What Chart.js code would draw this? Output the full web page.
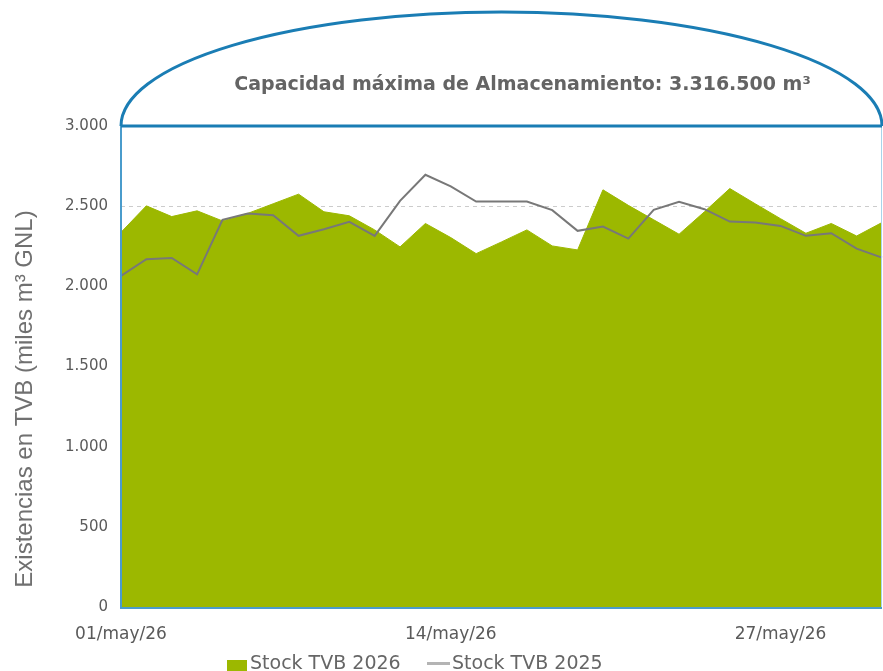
<!DOCTYPE html>
<html>
<head>
<meta charset="utf-8">
<script src="https://cdn.jsdelivr.net/npm/chart.js@4.4.1/dist/chart.umd.min.js"></script>
<style>
  body { margin: 0; background: #fff; }
  #wrap { position: relative; width: 883px; height: 671px; overflow: hidden; }
  #legend { position: absolute; left: 0; top: 0; width: 883px; height: 671px; pointer-events: none;
            font-family: "DejaVu Sans", sans-serif; font-size: 19px; color: #666666; }
  #legend span { position: absolute; white-space: nowrap; line-height: 22px; }
  .box { position: absolute; }
</style>
</head>
<body>
<div id="wrap">
  <canvas id="myChart" width="883" height="671"></canvas>
  <div id="legend">
    <div class="box" style="left:227px; top:660px; width:20px; height:12px; background:#9cb800;"></div>
    <span style="left:250px; top:651px;">Stock TVB 2026</span>
    <div class="box" style="left:427px; top:662px; width:23px; height:3px; background:#b4b4b4;"></div>
    <span style="left:452px; top:651px;">Stock TVB 2025</span>
  </div>
</div>
<script>
// days of May 2026
const labels = [];
for (let d = 1; d <= 31; d++) {
    labels.push(String(d).padStart(2, '0') + '/may/26');
}

// stock in thousand m3 GNL
const stock2026 = [2337, 2502, 2435, 2471, 2408, 2455, 2515, 2575, 2465, 2440,
                   2352, 2246, 2392, 2304, 2204, 2277, 2352, 2252, 2227, 2602,
                   2505, 2415, 2325, 2465, 2610, 2515, 2422, 2331, 2392, 2314, 2398];
const stock2025 = [2065, 2169, 2177, 2075, 2415, 2454, 2444, 2315, 2356, 2402,
                   2315, 2533, 2696, 2623, 2529, 2529, 2529, 2475, 2346, 2373,
                   2298, 2477, 2527, 2481, 2404, 2398, 2377, 2315, 2331, 2235, 2179];

const shownTicks = [0, 13, 26];
const capacityText = 'Capacidad máxima de Almacenamiento: 3.316.500 m³';
const yTitle = 'Existencias en TVB (miles m³ GNL)';

function fmt(v) {
    return String(v).replace(/\B(?=(\d{3})+(?!\d))/g, '.');
}

// dome on top of the tank + box borders + y title
const tankPlugin = {
    id: 'tank',
    afterDraw(chart) {
        const ctx = chart.ctx;
        const a = chart.chartArea;
        ctx.save();

        // thin borders of the plot box
        ctx.strokeStyle = '#4a9ccc';
        ctx.lineWidth = 2;
        ctx.beginPath();
        ctx.moveTo(a.left, a.top);
        ctx.lineTo(a.left, a.bottom + 1);
        ctx.lineTo(a.right, a.bottom + 1);
        ctx.stroke();
        ctx.strokeStyle = '#a8d4ea';
        ctx.lineWidth = 1;
        ctx.beginPath();
        ctx.moveTo(a.right - 0.5, a.top);
        ctx.lineTo(a.right - 0.5, a.bottom);
        ctx.stroke();

        // dome
        ctx.strokeStyle = '#1a7db4';
        ctx.lineWidth = 3;
        ctx.beginPath();
        ctx.ellipse((a.left + a.right) / 2, a.top, (a.right - a.left) / 2, 114, 0, Math.PI, 2 * Math.PI);
        ctx.stroke();
        ctx.beginPath();
        ctx.moveTo(a.left, a.top);
        ctx.lineTo(a.right, a.top);
        ctx.stroke();

        // capacity text
        ctx.fillStyle = '#646464';
        ctx.font = 'bold 19px "DejaVu Sans"';
        ctx.textAlign = 'center';
        ctx.textBaseline = 'middle';
        ctx.fillText(capacityText, (a.left + a.right) / 2 + 21, 85);

        // y axis title
        ctx.translate(25, 399);
        ctx.rotate(-Math.PI / 2);
        ctx.fillStyle = '#707070';
        ctx.font = '24px "Liberation Sans"';
        ctx.fillText(yTitle, 0, 0);
        ctx.restore();
    }
};

const ctx = document.getElementById('myChart');

const chart = new Chart(ctx, {
    type: 'line',
    data: {
        labels: labels,
        datasets: [
            {
                label: 'Stock TVB 2025',
                data: stock2025,
                borderColor: '#787878',
                borderWidth: 2,
                pointRadius: 0,
                fill: false,
                tension: 0,
                order: 0
            },
            {
                label: 'Stock TVB 2026',
                data: stock2026,
                borderColor: '#9cb800',
                backgroundColor: '#9cb800',
                borderWidth: 1,
                pointRadius: 0,
                fill: 'origin',
                tension: 0,
                order: 1
            }
        ]
    },
    options: {
        responsive: false,
        animation: false,
        layout: { padding: { top: 126, right: 1, left: 0, bottom: 0 } },
        plugins: {
            legend: { display: false },
            tooltip: { enabled: false }
        },
        scales: {
            x: {
                offset: false,
                grid: { display: false },
                border: { display: false },
                afterFit: (scale) => {
                    scale.height = 64;
                    scale.paddingLeft = 0;
                    scale.paddingRight = 0;
                },
                ticks: {
                    autoSkip: false,
                    maxRotation: 0,
                    padding: 9,
                    color: '#5a5a5a',
                    font: { family: 'DejaVu Sans', size: 17 },
                    callback: (value, index) => shownTicks.includes(index) ? labels[index] : ''
                }
            },
            y: {
                min: 0,
                max: 3000,
                afterFit: (scale) => { scale.width = 121; },
                grid: {
                    color: '#cccccc',
                    drawTicks: false
                },
                border: { display: false, dash: [4, 4] },
                ticks: {
                    stepSize: 500,
                    padding: 13,
                    color: '#5a5a5a',
                    font: { family: 'DejaVu Sans', size: 15 },
                    callback: (v) => fmt(v)
                }
            }
        }
    },
    plugins: [tankPlugin]
});
</script>
</body>
</html>
